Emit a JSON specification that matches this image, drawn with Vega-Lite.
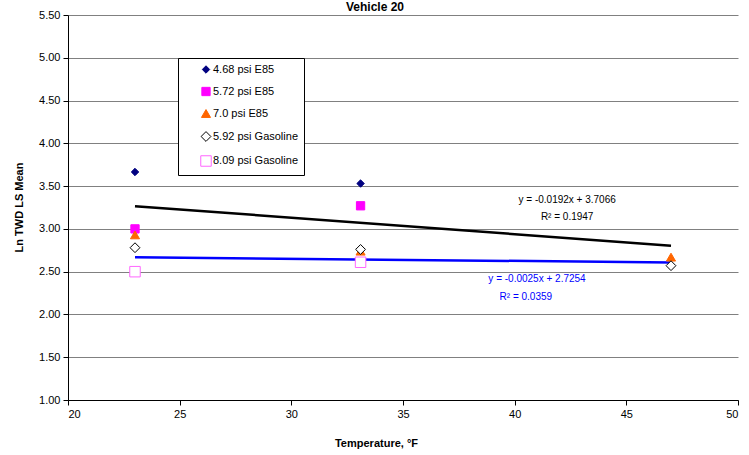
{
  "$schema": "https://vega.github.io/schema/vega-lite/v6.json",
  "width": 670,
  "height": 385,
  "autosize": {"type": "none"},
  "padding": {"left": 68, "top": 15, "right": 11, "bottom": 55},
  "background": "white",
  "title": {"text": "Vehicle 20", "fontSize": 12, "fontWeight": "bold", "font": "Liberation Sans", "color": "black", "anchor": "middle", "dx": -28, "offset": -5},
  "config": {
    "view": {"stroke": null},
    "axis": {"labelFont": "Liberation Sans", "labelFontSize": 11, "labelColor": "black", "titleFont": "Liberation Sans", "titleFontSize": 11, "titleFontWeight": "bold", "titleColor": "black", "domainColor": "black", "tickColor": "black", "tickSize": 5},
    "legend": {"orient": "none", "legendX": 110, "legendY": 43, "fillColor": "white", "strokeColor": "black", "padding": 6, "symbolOffset": 16, "rowPadding": 9, "labelFont": "Liberation Sans", "labelFontSize": 11, "labelColor": "black", "labelOffset": 1, "symbolStrokeWidth": 1}
  },
  "datasets": {
    "points": [
      {"temp": 23, "value": 3.665, "series": "4.68 psi E85"},
      {"temp": 33.1, "value": 3.53, "series": "4.68 psi E85"},
      {"temp": 23, "value": 3.0, "series": "5.72 psi E85"},
      {"temp": 33.1, "value": 3.27, "series": "5.72 psi E85"},
      {"temp": 23, "value": 2.93, "series": "7.0 psi E85"},
      {"temp": 33.1, "value": 2.74, "series": "7.0 psi E85"},
      {"temp": 47, "value": 2.67, "series": "7.0 psi E85"},
      {"temp": 23, "value": 2.78, "series": "5.92 psi Gasoline"},
      {"temp": 33.1, "value": 2.76, "series": "5.92 psi Gasoline"},
      {"temp": 47, "value": 2.57, "series": "5.92 psi Gasoline"},
      {"temp": 23, "value": 2.5, "series": "8.09 psi Gasoline"},
      {"temp": 33.1, "value": 2.61, "series": "8.09 psi Gasoline"}
    ],
    "trends": [
      {"temp": 23, "value": 3.265, "fit": "trend 1"},
      {"temp": 47, "value": 2.804, "fit": "trend 1"},
      {"temp": 23, "value": 2.668, "fit": "trend 2"},
      {"temp": 47, "value": 2.608, "fit": "trend 2"}
    ],
    "notes": [
      {"temp": 42.35, "value": 3.34, "fit": "trend 1", "label": "y = -0.0192x + 3.7066"},
      {"temp": 42.35, "value": 3.14, "fit": "trend 1", "label": "R² = 0.1947"},
      {"temp": 41.0, "value": 2.415, "fit": "trend 2", "label": "y = -0.0025x + 2.7254"},
      {"temp": 40.5, "value": 2.2, "fit": "trend 2", "label": "R² = 0.0359"}
    ]
  },
  "encoding": {
    "x": {"field": "temp", "type": "quantitative", "scale": {"domain": [20, 50], "nice": false, "zero": false},
      "axis": {"title": "Temperature, °F", "values": [20, 25, 30, 35, 40, 45, 50], "grid": false, "labelPadding": 3, "titleX": 308, "titleY": 37, "titleBaseline": "top"}},
    "y": {"field": "value", "type": "quantitative", "scale": {"domain": [1, 5.5], "nice": false, "zero": false},
      "axis": {"title": "Ln TWD LS Mean", "values": [1, 1.5, 2, 2.5, 3, 3.5, 4, 4.5, 5, 5.5], "format": ".2f", "grid": true, "gridColor": "#808080", "labelPadding": 3, "titleX": -44, "titleY": 192}}
  },
  "layer": [
    {
      "data": {"name": "trends"},
      "mark": {"type": "line", "strokeWidth": 2.5},
      "encoding": {
        "detail": {"field": "fit"},
        "color": {"field": "fit", "type": "nominal", "scale": {"domain": ["trend 1", "trend 2"], "range": ["#000000", "#0000FF"]}, "legend": null}
      }
    },
    {
      "data": {"name": "points"},
      "mark": {"type": "point", "strokeWidth": 1, "opacity": 1},
      "encoding": {
        "shape": {"field": "series", "type": "nominal", "scale": {"domain": ["4.68 psi E85", "5.72 psi E85", "7.0 psi E85", "5.92 psi Gasoline", "8.09 psi Gasoline"], "range": ["diamond", "square", "triangle-up", "diamond", "square"]}, "legend": {"title": null}},
        "fill": {"field": "series", "type": "nominal", "scale": {"domain": ["4.68 psi E85", "5.72 psi E85", "7.0 psi E85", "5.92 psi Gasoline", "8.09 psi Gasoline"], "range": ["#000080", "#FF00FF", "#FF6600", "#FFFFFF", "#FFFFFF"]}, "legend": {"title": null}},
        "stroke": {"field": "series", "type": "nominal", "scale": {"domain": ["4.68 psi E85", "5.72 psi E85", "7.0 psi E85", "5.92 psi Gasoline", "8.09 psi Gasoline"], "range": ["#000080", "#FF00FF", "#FF6600", "#000000", "#FF66FF"]}, "legend": {"title": null}},
        "size": {"field": "series", "type": "nominal", "scale": {"domain": ["4.68 psi E85", "5.72 psi E85", "7.0 psi E85", "5.92 psi Gasoline", "8.09 psi Gasoline"], "range": [55, 110, 80, 40, 100]}, "legend": {"title": null}}
      }
    },
    {
      "data": {"name": "notes"},
      "mark": {"type": "text", "font": "Liberation Sans", "fontSize": 10, "align": "center", "baseline": "middle"},
      "encoding": {
        "text": {"field": "label"},
        "color": {"field": "fit", "type": "nominal", "scale": {"domain": ["trend 1", "trend 2"], "range": ["#000000", "#0000FF"]}, "legend": null}
      }
    }
  ]
}
